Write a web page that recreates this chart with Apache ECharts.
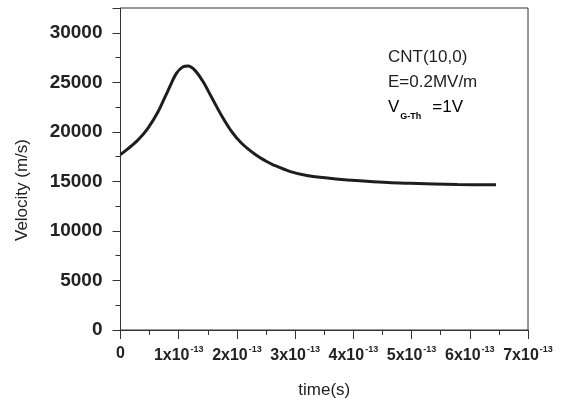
<!DOCTYPE html>
<html><head><meta charset="utf-8">
<script src="https://cdn.jsdelivr.net/npm/echarts@6/dist/echarts.min.js"></script>
<style>html,body{margin:0;padding:0;background:#fff}#c{width:561px;height:401px}</style>
</head><body><div id="c"></div>
<script>
// time in units of 1e-13 s
var timeValues = [0, 0.13, 0.30, 0.47, 0.645, 0.82, 0.96, 1.075, 1.16, 1.275, 1.42, 1.56, 1.73, 1.91, 2.08, 2.31, 2.51, 2.63, 2.92, 3.2, 3.7, 4.6, 4.98, 5.79, 6.45];
var velocityValues = [17700, 18300, 19180, 20360, 22030, 24220, 25900, 26570, 26640, 26230, 25050, 23540, 21700, 20020, 18850, 17740, 17000, 16650, 15980, 15590, 15250, 14880, 14810, 14690, 14650];
var xTicks = [0, 1, 2, 3, 4, 5, 6, 7];
var yTicks = [0, 5000, 10000, 15000, 20000, 25000, 30000];
var annotationLines = ['CNT(10,0)', 'E=0.2MV/m'];

var pts = timeValues.map(function (t, i) { return [t, velocityValues[i]]; });
var font = 'Liberation Sans, Arial, sans-serif';
var chart = echarts.init(document.getElementById('c'));
chart.setOption({
  animation: false,
  grid: { left: 120.5, top: 8, right: 33, bottom: 71, outerBoundsMode: 'none', containLabel: false,
    show: true, borderColor: '#333', borderWidth: 1 },
  xAxis: {
    type: 'value', min: 0, max: 7, interval: 1,
    name: 'time(s)', nameLocation: 'middle', nameGap: 52,
    nameTextStyle: { fontFamily: font, fontSize: 17, color: '#222' },
    axisLine: { lineStyle: { color: '#333', width: 1 } },
    axisTick: { show: true, inside: false, length: 9, lineStyle: { color: '#333' } },
    minorTick: { show: true, splitNumber: 2, length: 5, lineStyle: { color: '#333' } },
    splitLine: { show: false },
    axisLabel: {
      margin: 17, interval: 0, hideOverlap: false,
      fontFamily: font, fontWeight: 'bold', fontSize: 16, color: '#222',
      formatter: function (v) { return xTicks.indexOf(v) < 0 ? '' : (v === 0 ? '{z|0}' : '{b|' + v + 'x10}{s|-13}'); },
      rich: {
        z: { fontFamily: font, fontWeight: 'bold', fontSize: 16, color: '#222', lineHeight: 18, padding: [0, 0, 4, 0] },
        b: { fontFamily: font, fontWeight: 'bold', fontSize: 16, color: '#222', lineHeight: 18 },
        s: { fontFamily: font, fontWeight: 'bold', fontSize: 9, color: '#222', lineHeight: 18, padding: [0, 0, 12, 1] }
      }
    }
  },
  yAxis: {
    type: 'value', min: 0, max: 32500, interval: 5000,
    axisLine: { show: true, lineStyle: { color: '#333', width: 1 } },
    axisTick: { show: true, inside: false, length: 8, lineStyle: { color: '#333' } },
    minorTick: { show: true, splitNumber: 2, length: 5, lineStyle: { color: '#333' } },
    splitLine: { show: false },
    axisLabel: { margin: 18, fontFamily: font, fontWeight: 'bold', fontSize: 19, color: '#222',
      formatter: function (v) { return yTicks.indexOf(v) >= 0 ? String(v) : ''; } }
  },
  graphic: [
    { type: 'text', x: 22, y: 190, rotation: Math.PI / 2,
      style: { text: 'Velocity (m/s)', fontFamily: font, fontSize: 17, fill: '#222', align: 'center', verticalAlign: 'middle' } },
    { type: 'text', x: 388, y: 57,
      style: { text: annotationLines[0], fontFamily: font, fontSize: 17, fill: '#222', verticalAlign: 'middle' } },
    { type: 'text', x: 388, y: 82,
      style: { text: annotationLines[1], fontFamily: font, fontSize: 17, fill: '#222', verticalAlign: 'middle' } },
    { type: 'text', x: 388, y: 107,
      style: { text: '{v|V}{s|G-Th}{v|=1V}', verticalAlign: 'middle',
        rich: { v: { fontFamily: font, fontSize: 17, color: '#222', lineHeight: 20 },
                s: { fontFamily: font, fontSize: 9, fontWeight: 'bold', color: '#222', lineHeight: 20, padding: [20, 11, 0, 1] } } } }
  ],
  series: [{
    type: 'line', data: pts, smooth: 0.3, showSymbol: false,
    lineStyle: { color: '#1e1e1e', width: 3 }
  }]
});
</script></body></html>
